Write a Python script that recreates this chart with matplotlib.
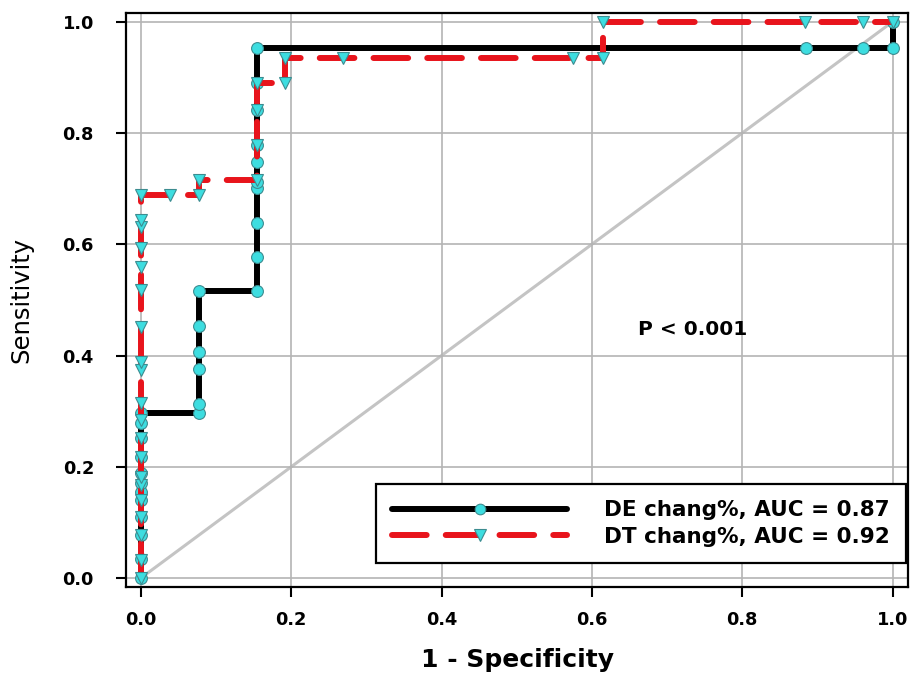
import matplotlib
matplotlib.use("Agg")
import matplotlib.pyplot as plt

plt.rcParams['font.family'] = ['DejaVu Sans']

# ROC points
de_fpr = [0, 0, 0, 0, 0, 0, 0, 0, 0, 0, 0, 0,
          0.077, 0.077, 0.077, 0.077, 0.077, 0.077,
          0.154, 0.154, 0.154, 0.154, 0.154, 0.154, 0.154, 0.154, 0.154, 0.154,
          0.885, 0.961, 1.0, 1.0]
de_tpr = [0, 0.034, 0.077, 0.11, 0.14, 0.155, 0.171, 0.189, 0.218, 0.252, 0.279, 0.297,
          0.297, 0.313, 0.376, 0.406, 0.453, 0.516,
          0.516, 0.577, 0.638, 0.701, 0.712, 0.748, 0.779, 0.842, 0.89, 0.953,
          0.953, 0.953, 0.953, 1.0]

dt_fpr = [0, 0, 0, 0, 0, 0, 0, 0, 0, 0, 0, 0, 0, 0, 0, 0, 0, 0, 0, 0,
          0.039, 0.077, 0.077, 0.154, 0.154, 0.154, 0.154,
          0.192, 0.192, 0.269, 0.575, 0.615, 0.615, 0.884, 0.961, 1.0]
dt_tpr = [0, 0.032, 0.077, 0.11, 0.14, 0.167, 0.182, 0.218, 0.252, 0.284, 0.315,
          0.374, 0.388, 0.451, 0.518, 0.559, 0.594, 0.631, 0.644, 0.689,
          0.689, 0.689, 0.716, 0.716, 0.779, 0.842, 0.89,
          0.89, 0.935, 0.935, 0.935, 0.935, 1.0, 1.0, 1.0, 1.0]

de_label = "DE chang%, AUC = 0.87"
dt_label = "DT chang%, AUC = 0.92"
p_text = "P < 0.001"
ticks = [0.0, 0.2, 0.4, 0.6, 0.8, 1.0]

fig = plt.figure(figsize=(9.12, 6.77), dpi=100)
ax = fig.add_axes([0.138, 0.133, 0.858, 0.848])

ax.grid(True, color='#b4b4b4', lw=1.2, zorder=0)
ax.plot([0, 1], [0, 1], color='#c4c4c4', lw=2.2, zorder=1)

cyan = '#3ddde0'
edge = '#3c8c90'
ax.plot(de_fpr, de_tpr, color='black', lw=4.3, marker='o', ms=8.5,
        mfc=cyan, mec=edge, mew=0.8, zorder=3, label=de_label,
        solid_capstyle='round')
ax.plot(dt_fpr, dt_tpr, color='#e8141c', lw=4.3, marker='v', ms=9,
        mfc=cyan, mec=edge, mew=0.8, zorder=4, label=dt_label,
        dashes=(5.8, 3.2), dash_capstyle='round')

ax.text(0.662, 0.446, p_text, fontsize=14.5, fontweight='bold', va='center')

ax.set_xlim(-0.02, 1.021)
ax.set_ylim(-0.016, 1.016)
ax.set_xticks(ticks)
ax.set_yticks(ticks)
ax.set_xticklabels([f"{t:.1f}" for t in ticks], fontsize=12.8, fontweight='bold')
ax.set_yticklabels([f"{t:.1f}" for t in ticks], fontsize=12.8, fontweight='bold')
ax.tick_params(direction='out', length=7, width=1.5)
ax.tick_params(axis='x', pad=10)
ax.tick_params(axis='y', pad=16)
for s in ax.spines.values():
    s.set_linewidth(1.6)

ax.set_xlabel("1 - Specificity", fontsize=18, fontweight='bold', labelpad=14)
ax.set_ylabel("Sensitivity", fontsize=17.5)
ax.yaxis.set_label_coords(-0.118, 0.5)

leg = ax.legend(loc='lower right', bbox_to_anchor=(0.9974, 0.042), borderaxespad=0,
                prop={'weight': 'bold', 'size': 15.5}, handlelength=8.1,
                handletextpad=1.75, borderpad=0.75, labelspacing=0.3,
                fancybox=False, edgecolor='black', framealpha=1, markerscale=0.9)
leg.get_frame().set_linewidth(1.6)

fig.savefig("out.png", dpi=100)
